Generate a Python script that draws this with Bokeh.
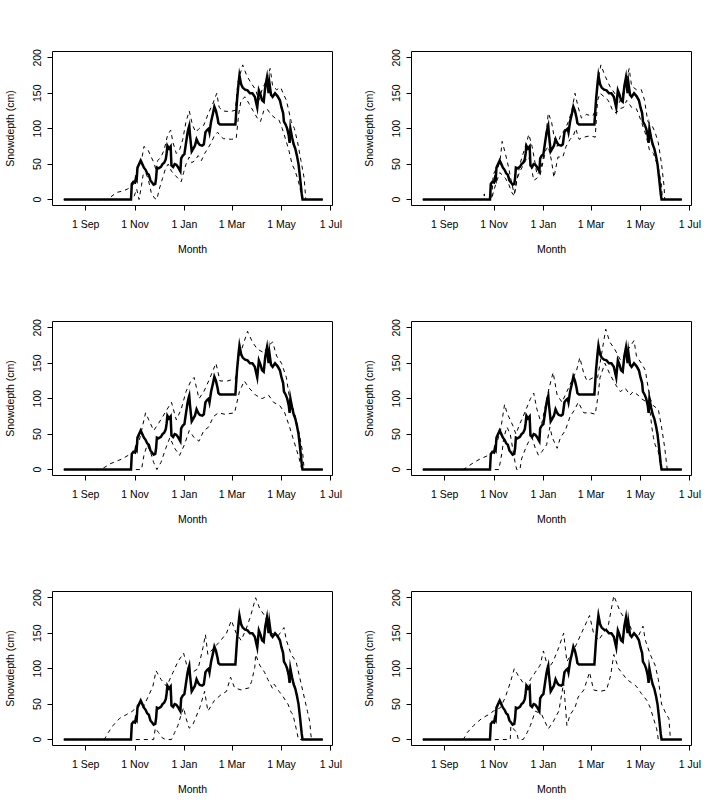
from bokeh.plotting import figure
from bokeh.layouts import gridplot
from bokeh.models import FixedTicker, Range1d
from bokeh.embed import file_html
from bokeh.resources import INLINE

# Time axis: days counted from 1 September
month_ticks = [0, 61, 122, 181, 242, 303]
month_labels = ["1 Sep", "1 Nov", "1 Jan", "1 Mar", "1 May", "1 Jul"]
depth_ticks = [0, 50, 100, 150, 200]

# Observed snow depth (cm), same in every panel: (day, depth)
observed = [
    (-27, 0), (56, 0), (57, 22), (59, 25), (61, 24), (62, 30), (63, 28), (64, 45),
    (66, 50), (68, 55), (70, 50), (72, 45), (74, 42), (76, 37), (78, 35), (80, 27),
    (82, 24), (84, 21), (86, 22), (87, 30), (88, 45), (90, 44), (93, 46), (95, 50),
    (97, 52), (99, 57), (100, 65), (101, 76), (103, 72), (105, 75), (106, 48),
    (108, 46), (110, 50), (112, 49), (114, 46), (116, 42), (117, 40), (118, 58),
    (120, 62), (122, 64), (124, 80), (126, 95), (127, 100), (128, 104), (129, 90),
    (131, 68), (133, 72), (135, 76), (137, 85), (139, 80), (141, 77), (144, 76),
    (146, 78), (148, 95), (150, 98), (152, 100), (153, 95), (155, 110), (157, 120),
    (159, 131), (161, 125), (163, 115), (164, 108), (166, 106), (185, 106),
    (187, 140), (189, 165), (190, 175), (192, 163), (194, 158), (197, 155),
    (200, 154), (203, 150), (206, 150), (209, 145), (211, 135), (212, 130),
    (214, 154), (216, 148), (218, 140), (220, 138), (222, 160), (224, 172),
    (226, 150), (227, 165), (229, 148), (231, 145), (234, 150), (237, 146),
    (240, 140), (242, 130), (244, 122), (245, 110), (247, 106), (249, 100),
    (251, 90), (252, 80), (253, 100), (255, 88), (257, 78), (259, 72), (261, 62),
    (263, 50), (265, 30), (267, 8), (268, 0), (293, 0),
]

# Simulated bounds for each panel: upper and lower (day, depth)
upper_1 = [
    (-27, 0), (27, 0), (38, 10), (46, 12), (52, 15), (58, 20), (61, 25), (63, 40),
    (66, 50), (69, 55), (72, 75), (77, 70), (81, 60), (85, 50), (87, 40), (89, 55),
    (93, 60), (97, 70), (101, 90), (105, 98), (108, 80), (112, 65), (116, 70),
    (120, 85), (124, 110), (128, 125), (132, 105), (136, 95), (140, 100), (146, 105),
    (151, 120), (157, 135), (162, 150), (165, 130), (170, 125), (178, 124),
    (185, 126), (188, 165), (194, 190), (199, 175), (204, 165), (210, 155),
    (214, 140), (218, 155), (222, 165), (228, 185), (231, 160), (236, 155),
    (241, 158), (244, 150), (248, 140), (250, 130), (254, 110), (258, 100),
    (262, 80), (266, 55), (270, 30), (272, 0), (293, 0),
]
lower_1 = [
    (-27, 0), (57, 0), (60, 5), (63, 15), (66, 0), (69, 20), (71, 35), (74, 38),
    (77, 30), (81, 10), (85, 2), (88, 0), (91, 15), (95, 30), (99, 45), (102, 50),
    (106, 40), (110, 35), (114, 30), (118, 25), (121, 38), (124, 50), (128, 60),
    (131, 52), (135, 55), (139, 62), (143, 55), (147, 65), (151, 72), (155, 80),
    (159, 90), (163, 95), (166, 90), (170, 86), (180, 85), (186, 86), (189, 120),
    (192, 140), (197, 145), (202, 135), (207, 125), (212, 115), (216, 110),
    (220, 125), (224, 128), (229, 120), (234, 115), (239, 112), (243, 100),
    (247, 85), (251, 70), (255, 50), (259, 40), (263, 25), (266, 10), (268, 0),
    (293, 0),
]
upper_2 = [
    (-27, 0), (47, 0), (49, 8), (50, 0), (58, 0), (60, 35), (63, 42), (66, 45),
    (69, 60), (71, 82), (75, 65), (79, 45), (83, 22), (86, 8), (89, 25), (93, 50),
    (97, 65), (101, 80), (104, 92), (108, 75), (112, 50), (114, 35), (118, 40),
    (122, 60), (126, 100), (128, 122), (132, 110), (135, 90), (139, 75), (143, 90),
    (149, 100), (153, 110), (157, 125), (161, 150), (165, 130), (169, 115),
    (175, 120), (183, 118), (186, 125), (189, 165), (193, 190), (198, 175),
    (204, 160), (210, 150), (215, 135), (219, 145), (223, 160), (228, 185),
    (231, 160), (237, 155), (243, 155), (247, 140), (251, 110), (256, 105),
    (260, 95), (264, 80), (268, 50), (271, 20), (272, 0), (293, 0),
]
lower_2 = [
    (-27, 0), (58, 0), (60, 10), (64, 25), (68, 38), (71, 35), (75, 30), (79, 22),
    (83, 10), (86, 5), (89, 28), (93, 40), (97, 48), (100, 55), (104, 60),
    (108, 40), (110, 27), (114, 30), (118, 35), (122, 55), (125, 70), (128, 75),
    (132, 55), (135, 31), (140, 60), (146, 60), (150, 75), (155, 85), (159, 90),
    (162, 100), (166, 85), (172, 88), (180, 90), (186, 88), (189, 140), (192, 150),
    (197, 145), (202, 140), (208, 125), (212, 122), (216, 128), (221, 130),
    (225, 140), (231, 130), (237, 128), (243, 110), (249, 90), (253, 70),
    (258, 65), (264, 45), (268, 20), (269, 0), (293, 0),
]
upper_3 = [
    (-27, 0), (19, 0), (30, 8), (45, 15), (60, 25), (66, 40), (70, 60), (74, 80),
    (78, 70), (84, 55), (90, 65), (98, 80), (106, 95), (112, 70), (118, 85),
    (124, 110), (130, 125), (134, 130), (140, 100), (146, 110), (152, 125),
    (161, 150), (166, 125), (175, 125), (185, 128), (190, 160), (200, 195),
    (206, 180), (212, 170), (220, 165), (226, 175), (231, 180), (236, 160),
    (242, 150), (248, 130), (252, 100), (258, 80), (264, 50), (268, 25), (270, 0),
    (293, 0),
]
lower_3 = [
    (-27, 0), (69, 0), (72, 20), (76, 35), (80, 25), (84, 10), (88, 0), (93, 10),
    (99, 30), (104, 45), (110, 30), (116, 20), (122, 35), (128, 55), (134, 45),
    (140, 40), (146, 55), (152, 60), (158, 75), (164, 80), (172, 78), (184, 80),
    (190, 110), (196, 125), (202, 115), (210, 105), (218, 100), (226, 105),
    (232, 95), (240, 90), (246, 80), (252, 60), (256, 45), (260, 30), (264, 15),
    (267, 0), (293, 0),
]
upper_4 = [
    (-27, 0), (23, 0), (36, 10), (44, 15), (54, 20), (60, 25), (65, 40), (69, 55),
    (74, 92), (77, 80), (81, 70), (85, 60), (88, 50), (93, 65), (97, 75),
    (106, 100), (110, 108), (114, 85), (118, 70), (120, 65), (128, 110), (134, 137),
    (139, 105), (145, 95), (151, 110), (155, 120), (163, 140), (167, 158),
    (172, 135), (176, 125), (184, 130), (189, 130), (192, 150), (199, 198),
    (204, 180), (210, 170), (217, 155), (223, 160), (227, 170), (234, 182),
    (237, 160), (243, 150), (248, 140), (250, 125), (254, 100), (258, 90),
    (264, 85), (268, 60), (272, 30), (274, 10), (275, 0), (293, 0),
]
lower_4 = [
    (-27, 0), (67, 0), (71, 25), (73, 45), (77, 60), (81, 50), (84, 30), (87, 10),
    (89, 0), (93, 0), (95, 15), (100, 30), (104, 40), (108, 45), (112, 30),
    (116, 20), (120, 25), (126, 35), (130, 60), (133, 45), (139, 30), (143, 45),
    (149, 55), (155, 75), (161, 85), (165, 95), (172, 80), (180, 80), (186, 78),
    (189, 100), (192, 130), (198, 150), (204, 135), (211, 120), (217, 110),
    (223, 115), (229, 105), (233, 110), (239, 105), (243, 100), (250, 95),
    (254, 80), (256, 60), (258, 45), (260, 35), (264, 25), (266, 10), (268, 0),
    (293, 0),
]
upper_5 = [
    (-27, 0), (23, 0), (28, 10), (34, 20), (42, 30), (50, 35), (58, 40), (65, 50),
    (71, 45), (77, 60), (83, 75), (87, 97), (93, 85), (100, 75), (108, 95),
    (114, 110), (121, 122), (126, 100), (132, 95), (139, 100), (145, 130),
    (148, 148), (151, 120), (159, 130), (167, 140), (174, 150), (180, 168),
    (186, 150), (192, 140), (198, 155), (204, 175), (210, 200), (215, 185),
    (221, 175), (225, 165), (230, 150), (237, 145), (245, 158), (248, 140),
    (254, 120), (260, 110), (264, 90), (270, 60), (274, 40), (277, 25), (278, 10),
    (279, 0), (293, 0),
]
lower_5 = [
    (-27, 0), (84, 0), (86, 16), (90, 10), (95, 2), (99, 0), (106, 0), (110, 10),
    (114, 20), (118, 35), (121, 45), (124, 30), (128, 16), (132, 20), (135, 28),
    (141, 45), (147, 68), (151, 40), (159, 55), (167, 63), (174, 68), (179, 88),
    (184, 73), (192, 70), (202, 73), (205, 82), (209, 102), (210, 120), (215, 105),
    (221, 95), (225, 85), (231, 72), (233, 78), (239, 68), (243, 62), (250, 50),
    (254, 38), (256, 36), (260, 16), (263, 0), (293, 0),
]
upper_6 = [
    (-27, 0), (23, 0), (28, 10), (36, 20), (46, 30), (54, 35), (60, 40), (69, 45),
    (75, 60), (81, 80), (86, 100), (91, 90), (97, 80), (102, 75), (106, 85),
    (112, 95), (118, 105), (122, 125), (128, 100), (134, 110), (141, 130),
    (147, 150), (151, 110), (159, 125), (169, 150), (179, 175), (184, 150),
    (190, 140), (196, 150), (202, 160), (209, 203), (217, 180), (223, 170),
    (227, 165), (233, 150), (239, 145), (245, 160), (248, 140), (254, 120),
    (260, 105), (264, 85), (268, 50), (274, 35), (277, 30), (279, 0), (293, 0),
]
lower_6 = [
    (-27, 0), (81, 0), (82, 25), (85, 15), (89, 10), (91, 0), (97, 0), (102, 10),
    (106, 20), (112, 40), (116, 38), (120, 35), (124, 25), (128, 15), (134, 25),
    (141, 40), (147, 80), (151, 20), (155, 35), (161, 45), (165, 60), (172, 70),
    (179, 95), (184, 70), (192, 68), (200, 70), (205, 90), (209, 120), (215, 100),
    (225, 85), (231, 80), (237, 75), (243, 65), (250, 55), (254, 45), (258, 30),
    (262, 15), (264, 0), (293, 0),
]

FONT = "Liberation Sans"
FONT_SIZE = "10.5px"


def split(points):
    return [d for d, _ in points], [v for _, v in points]


def panel(upper, lower, height, bottom):
    p = figure(width=359, height=height,
               x_range=Range1d(-41, 305), y_range=Range1d(-8.4, 208.9),
               output_backend="svg", toolbar_location=None, tools="",
               min_border_left=51, min_border_right=27,
               min_border_top=51, min_border_bottom=bottom)
    p.background_fill_color = "white"
    p.border_fill_color = "white"
    p.outline_line_color = "black"
    p.outline_line_width = 1
    p.outline_line_alpha = 1
    p.xgrid.visible = False
    p.ygrid.visible = False

    for ax in (p.xaxis[0], p.yaxis[0]):
        ax.axis_line_color = None
        ax.major_tick_line_color = "black"
        ax.major_tick_out = 5
        ax.major_tick_in = 0
        ax.minor_tick_line_color = None
        ax.major_label_text_font = FONT
        ax.major_label_text_font_size = FONT_SIZE
        ax.major_label_text_color = "black"
        ax.axis_label_text_font = FONT
        ax.axis_label_text_font_size = FONT_SIZE
        ax.axis_label_text_font_style = "normal"
        ax.axis_label_text_color = "black"

    p.xaxis.ticker = FixedTicker(ticks=month_ticks)
    p.xaxis.major_label_overrides = {t: s for t, s in zip(month_ticks, month_labels)}
    p.xaxis.axis_label = "Month"
    p.xaxis.major_label_standoff = 7
    p.xaxis.axis_label_standoff = 10

    p.yaxis.ticker = FixedTicker(ticks=depth_ticks)
    p.yaxis.major_label_orientation = "parallel"
    p.yaxis.axis_label = "Snowdepth (cm)"
    p.yaxis.major_label_standoff = 6
    p.yaxis.axis_label_standoff = 15

    for series in (upper, lower):
        d, v = split(series)
        p.line(d, v, line_color="black", line_width=1, line_dash="4 4")
    d, v = split(observed)
    p.line(d, v, line_color="black", line_width=2.5, line_join="miter")
    return p


panels = [
    [panel(upper_1, lower_1, 270, 65), panel(upper_2, lower_2, 270, 65)],
    [panel(upper_3, lower_3, 270, 65), panel(upper_4, lower_4, 270, 65)],
    [panel(upper_5, lower_5, 269, 64), panel(upper_6, lower_6, 269, 64)],
]

grid = gridplot(panels, toolbar_location=None)
open("out.html", "w").write(file_html(grid, INLINE))
